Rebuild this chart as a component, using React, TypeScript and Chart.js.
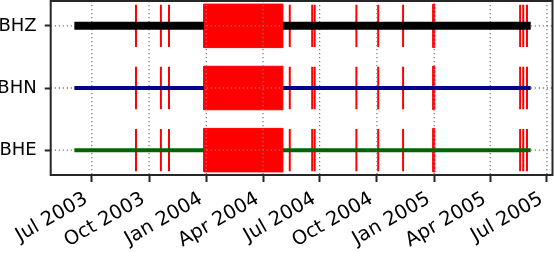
import React, { useEffect, useRef } from "react";
import { Chart, registerables } from "chart.js";

Chart.register(...registerables);

// ---- data ----
const channels = ["BHE", "BHN", "BHZ"]; // y = 0, 1, 2
const channelColors = ["#006400", "#00008b", "#000000"];
const channelWidths = [4, 4, 8];
const dataSegments = [
  ["2003-06-03", "2003-12-28"],
  ["2004-05-03", "2005-06-05"],
];
const gapBlocks = [
  ["2003-12-28", "2004-05-03"],
  ["2004-12-30", "2005-01-02"],
];
const gapTicks = [
  "2003-09-10", "2003-10-20", "2003-11-02", "2004-05-14", "2004-06-19",
  "2004-06-23", "2004-08-29", "2004-10-03", "2004-11-12", "2005-05-19",
  "2005-05-24", "2005-05-30",
];
const tickMonths = [
  "2003-07-01", "2003-10-01", "2004-01-01", "2004-04-01", "2004-07-01",
  "2004-10-01", "2005-01-01", "2005-04-01", "2005-07-01",
];
const axisStart = "2003-04-26";
const axisEnd = "2005-07-10";
const monthNames = ["Jan", "Feb", "Mar", "Apr", "May", "Jun", "Jul", "Aug", "Sep", "Oct", "Nov", "Dec"];

const day = (s: string) => {
  const [y, m, d] = s.split("-").map(Number);
  return Date.UTC(y, m - 1, d) / 86400000;
};

const FONT = "'DejaVu Sans', sans-serif";
const FRAME = "#262626";
const TICK_HALF = 0.34;
const BLOCK_HALF = 0.35;

export default function App() {
  const ref = useRef<HTMLCanvasElement | null>(null);

  useEffect(() => {
    if (!ref.current) return;

    const lineSets = channels.map((_, c) => ({
      type: "line",
      data: dataSegments.flatMap(([a, b]) => [
        { x: day(a), y: c },
        { x: day(b), y: c },
        { x: day(b), y: null },
      ]),
      borderColor: channelColors[c],
      borderWidth: channelWidths[c],
      borderCapStyle: "butt",
      pointRadius: 0,
      fill: false,
      spanGaps: false,
      tension: 0,
    }));

    const tickSets = channels.map((_, c) => ({
      type: "line",
      data: gapTicks.flatMap((g) => [
        { x: day(g), y: c - TICK_HALF },
        { x: day(g), y: c + TICK_HALF },
        { x: day(g), y: null },
      ]),
      borderColor: "#ff0000",
      borderWidth: 2,
      borderCapStyle: "butt",
      pointRadius: 0,
      fill: false,
      spanGaps: false,
      tension: 0,
    }));

    const blockSets = channels.flatMap((_, c) =>
      gapBlocks.map(([a, b]) => ({
        type: "line",
        data: [
          { x: day(a), y: c - BLOCK_HALF },
          { x: day(b), y: c - BLOCK_HALF },
          { x: day(b), y: c + BLOCK_HALF },
          { x: day(a), y: c + BLOCK_HALF },
          { x: day(a), y: c - BLOCK_HALF },
        ],
        borderColor: "#ff0000",
        backgroundColor: "#ff0000",
        borderWidth: 1,
        pointRadius: 0,
        fill: "shape",
        tension: 0,
      }))
    );

    const datasets = [...lineSets, ...tickSets, ...blockSets];
    const lastRedIndex = lineSets.length; // drawn last among red marks

    const gridBetween = {
      id: "gridBetween",
      afterDatasetDraw(chart: any, args: any) {
        if (args.index !== lastRedIndex) return;
        const { ctx, chartArea: a } = chart;
        ctx.save();
        ctx.beginPath();
        ctx.rect(a.left, a.top, a.right - a.left, a.bottom - a.top);
        ctx.clip();
        ctx.strokeStyle = "#808080";
        ctx.lineWidth = 1.3;
        ctx.setLineDash([1.3, 2.7]);
        const xs = chart.scales.x;
        for (const t of xs.ticks) {
          const px = xs.getPixelForValue(t.value);
          ctx.beginPath();
          ctx.moveTo(px, a.top);
          ctx.lineTo(px, a.bottom);
          ctx.stroke();
        }
        const ys = chart.scales.y;
        for (const t of ys.ticks) {
          const py = ys.getPixelForValue(t.value);
          ctx.beginPath();
          ctx.moveTo(a.left, py);
          ctx.lineTo(a.right, py);
          ctx.stroke();
        }
        ctx.restore();
      },
    };

    const frame = {
      id: "frame",
      afterDraw(chart: any) {
        const { ctx, chartArea: a } = chart;
        ctx.save();
        ctx.strokeStyle = FRAME;
        ctx.lineWidth = 2;
        ctx.setLineDash([]);
        ctx.strokeRect(a.left, a.top, a.right - a.left, a.bottom - a.top);
        ctx.restore();
      },
    };

    const chart = new Chart(ref.current, {
      type: "line",
      data: { datasets: datasets as any },
      options: {
        animation: false,
        responsive: false,
        events: [],
        layout: { padding: { top: 1, right: 1.5, left: 0, bottom: 0 } },
        plugins: { legend: { display: false }, tooltip: { enabled: false } },
        scales: {
          x: {
            type: "linear",
            min: day(axisStart),
            max: day(axisEnd),
            afterBuildTicks: (scale: any) => {
              scale.ticks = tickMonths.map((s) => ({ value: day(s) }));
            },
            afterFit: (scale: any) => {
              scale.height = 78;
              scale.paddingLeft = 0;
              scale.paddingRight = 0;
            },
            border: { display: false },
            grid: {
              drawOnChartArea: false,
              drawTicks: true,
              tickLength: 7,
              tickColor: FRAME,
              tickWidth: 2,
            },
            ticks: {
              autoSkip: false,
              maxRotation: 30,
              minRotation: 30,
              padding: 5.5,
              labelOffset: -5.5,
              color: "#000000",
              font: { family: FONT, size: 19.5 },
              callback: (v: any) => {
                const d = new Date(Number(v) * 86400000);
                return `${monthNames[d.getUTCMonth()]} ${d.getUTCFullYear()}`;
              },
            },
          },
          y: {
            type: "linear",
            min: -0.4,
            max: 2.4,
            afterBuildTicks: (scale: any) => {
              scale.ticks = channels.map((_, i) => ({ value: i }));
            },
            afterFit: (scale: any) => {
              scale.width = 50.7;
              scale.paddingTop = 0;
              scale.paddingBottom = 0;
            },
            border: { display: false },
            grid: {
              drawOnChartArea: false,
              drawTicks: true,
              tickLength: 6,
              tickColor: FRAME,
              tickWidth: 2,
            },
            ticks: {
              padding: 8,
              color: "#000000",
              font: { family: FONT, size: 18 },
              callback: (v: any) => channels[Number(v)] ?? "",
            },
          },
        },
      },
      plugins: [gridBetween, frame],
    } as any);

    return () => chart.destroy();
  }, []);

  return (
    <div style={{ position: "absolute", left: 0, top: 0, width: 554, height: 253 }}>
      <canvas ref={ref} width={554} height={253} style={{ display: "block" }} />
    </div>
  );
}
